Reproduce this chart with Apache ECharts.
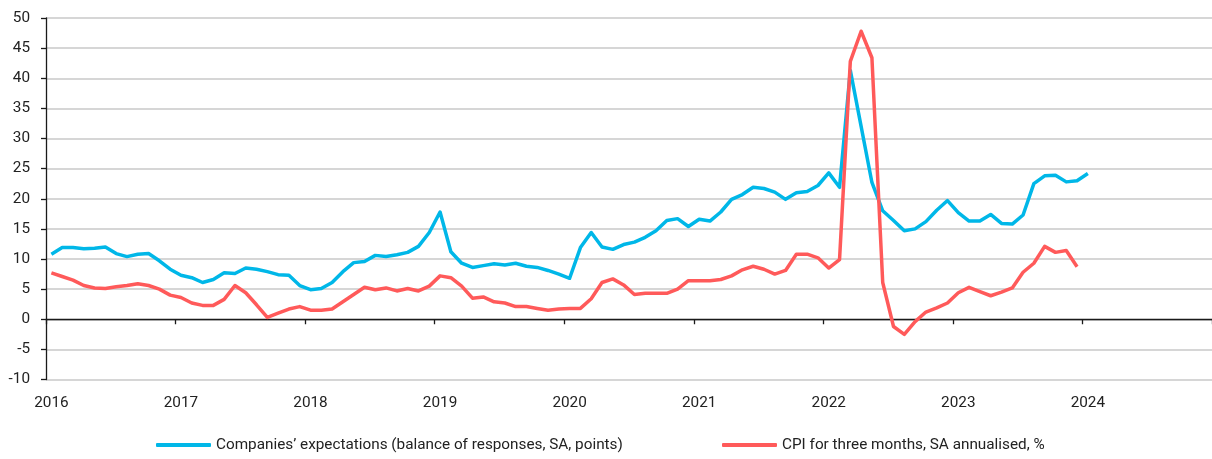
<!DOCTYPE html>
<html>
<head>
<meta charset="utf-8">
<script src="https://cdn.jsdelivr.net/npm/echarts@6/dist/echarts.min.js"></script>
<style>
html,body{margin:0;padding:0;background:#fff;}
#chart{width:1212px;height:459px;}
</style>
</head>
<body>
<div id="chart"></div>
<script>
// Years shown on the x axis (monthly categories, Jan 2016 – Dec 2024)
const years = ['2016','2017','2018','2019','2020','2021','2022','2023','2024'];
const seriesNames = [
  'Companies\u2019 expectations (balance of responses, SA, points)',
  'CPI for three months, SA annualised, %'
];
// Companies' expectations, monthly from Jan 2016 to Jan 2024
const expectations = [
  10.8, 11.9, 11.9, 11.7, 11.8, 12.0, 10.9, 10.4, 10.8, 10.9, 9.7, 8.3,
  7.3, 6.9, 6.1, 6.6, 7.7, 7.6, 8.5, 8.3, 7.9, 7.4, 7.3, 5.6,
  4.9, 5.1, 6.1, 7.9, 9.4, 9.6, 10.6, 10.4, 10.7, 11.1, 12.1, 14.4,
  17.8, 11.2, 9.3, 8.6, 8.9, 9.2, 9.0, 9.3, 8.8, 8.6, 8.1, 7.5,
  6.8, 11.9, 14.4, 12.0, 11.6, 12.4, 12.8, 13.6, 14.7, 16.4, 16.7, 15.4,
  16.6, 16.3, 17.8, 19.9, 20.7, 21.9, 21.7, 21.1, 19.9, 21.0, 21.2, 22.2,
  24.3, 21.9, 41.3, 32.0, 22.7, 18.0, 16.4, 14.7, 15.0, 16.2, 18.1, 19.7,
  17.7, 16.3, 16.3, 17.4, 15.9, 15.8, 17.3, 22.5, 23.8, 23.9, 22.8, 23.0,
  24.2
];
// CPI 3m SA annualised, monthly from Jan 2016 to Dec 2023
const cpi3m = [
  7.7, 7.1, 6.5, 5.6, 5.2, 5.1, 5.4, 5.6, 5.9, 5.6, 5.0, 4.0,
  3.6, 2.7, 2.3, 2.3, 3.3, 5.6, 4.4, 2.4, 0.3, 1.0, 1.7, 2.1,
  1.5, 1.5, 1.7, 2.9, 4.1, 5.3, 4.9, 5.2, 4.7, 5.1, 4.7, 5.5,
  7.2, 6.9, 5.5, 3.5, 3.7, 2.9, 2.7, 2.1, 2.1, 1.8, 1.5, 1.7,
  1.8, 1.8, 3.4, 6.1, 6.7, 5.7, 4.1, 4.3, 4.3, 4.3, 5.0, 6.4,
  6.4, 6.4, 6.6, 7.2, 8.2, 8.8, 8.3, 7.5, 8.1, 10.8, 10.8, 10.2,
  8.5, 9.9, 42.8, 47.8, 43.4, 6.1, -1.2, -2.5, -0.4, 1.2, 1.9, 2.7,
  4.4, 5.3, 4.6, 3.9, 4.5, 5.2, 7.8, 9.3, 12.1, 11.1, 11.4, 8.7
];

const months = [];
years.forEach(y => { for (let m = 1; m <= 12; m++) months.push(y + '-' + String(m).padStart(2, '0')); });

const FONT = 'Roboto, "Liberation Sans", sans-serif';
const FS = 15.3;
const BLUE = '#00b7e8';
const RED = '#ff5a5a';

const chart = echarts.init(document.getElementById('chart'), null, {renderer: 'canvas'});
chart.setOption({
  animation: false,
  backgroundColor: '#ffffff',
  grid: {left: 46, right: 0, top: 18, bottom: 79.5, containLabel: false, outerBoundsMode: 'none'},
  legend: [
    {
      data: [seriesNames[0]], left: 156, top: 437, itemWidth: 55, itemHeight: 4, itemGap: 0,
      icon: 'roundRect', padding: 0,
      textStyle: {fontFamily: FONT, fontSize: FS, color: '#222', lineHeight: 16}
    },
    {
      data: [seriesNames[1]], left: 722, top: 437, itemWidth: 55, itemHeight: 4, itemGap: 0,
      icon: 'roundRect', padding: 0,
      textStyle: {fontFamily: FONT, fontSize: FS, color: '#222', lineHeight: 16}
    }
  ],
  xAxis: {
    type: 'category',
    data: months,
    boundaryGap: true,
    axisLine: {onZero: true, lineStyle: {color: '#1a1a1a', width: 1.3}},
    axisTick: {show: true, length: 5, interval: (i) => i % 12 === 0, lineStyle: {color: '#1a1a1a', width: 1.3}},
    axisLabel: {
      interval: (i) => i % 12 === 0,
      formatter: (v) => v.slice(0, 4),
      margin: 16,
      fontFamily: FONT, fontSize: FS, color: '#222'
    },
    splitLine: {show: false}
  },
  yAxis: {
    type: 'value',
    min: -10, max: 50, interval: 5,
    axisLine: {show: true, onZero: false, lineStyle: {color: '#1a1a1a', width: 1.3}},
    axisTick: {show: true, length: 5, lineStyle: {color: '#1a1a1a', width: 1.3}},
    axisLabel: {margin: 16, fontFamily: FONT, fontSize: FS, color: '#222'},
    splitLine: {show: true, lineStyle: {color: '#c8c8c8', width: 1.6}}
  },
  series: [
    {
      name: seriesNames[0], type: 'line', data: expectations,
      symbol: 'none', smooth: false,
      lineStyle: {color: BLUE, width: 3.5, join: 'round'},
      itemStyle: {color: BLUE}
    },
    {
      name: seriesNames[1], type: 'line', data: cpi3m,
      symbol: 'none', smooth: false,
      lineStyle: {color: RED, width: 3.5, join: 'round'},
      itemStyle: {color: RED}
    }
  ]
});
</script>
</body>
</html>
